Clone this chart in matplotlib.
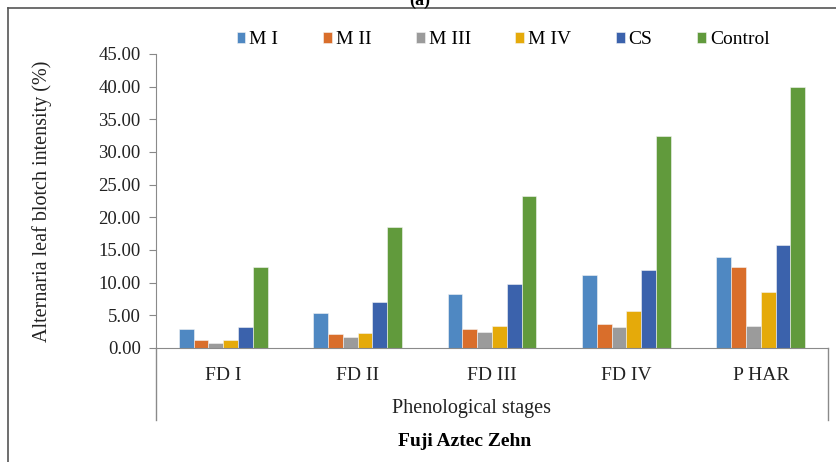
import matplotlib.pyplot as plt
import numpy as np
from matplotlib.lines import Line2D

# -------------------------------
# Data
# -------------------------------
stages = ["FD I", "FD II", "FD III", "FD IV", "P HAR"]
series = ["M I", "M II", "M III", "M IV", "CS", "Control"]
m1 = [2.9, 5.3, 8.2, 11.1, 13.9]
m2 = [1.3, 2.1, 2.9, 3.6, 12.4]
m3 = [0.8, 1.7, 2.5, 3.2, 3.4]
m4 = [1.3, 2.3, 3.4, 5.6, 8.5]
cs = [3.2, 7.0, 9.8, 11.9, 15.7]
control = [12.4, 18.5, 23.2, 32.5, 39.9]
colors = ["#4F88C2", "#D96E2B", "#9B9B9B", "#E5AA0A", "#3B62AC", "#619A3C"]

# -------------------------------
# Figure
# -------------------------------
plt.rcParams["font.family"] = ["Liberation Serif", "DejaVu Serif"]
W, H = 837, 462
L, R, T, B = 156, 828, 54, 348
fig = plt.figure(figsize=(W / 100, H / 100), dpi=100)
ax = fig.add_axes([L / W, 1 - B / H, (R - L) / W, (B - T) / H])

x = np.arange(len(stages))
width = 0.11
for i, (name, vals) in enumerate(zip(series, [m1, m2, m3, m4, cs, control])):
    ax.bar(x + (i - 2.5) * width, vals, width, color=colors[i], label=name,
           edgecolor="#F4F4F4", linewidth=0.4)

ax.set_xlim(-0.5, len(stages) - 0.5)
ax.set_ylim(0, 45)
ax.set_yticks(np.arange(0, 46, 5))
ax.set_yticklabels([f"{v:.2f}" for v in np.arange(0, 46, 5)], fontsize=13.5, color="#222222")
ax.set_xticks(x)
ax.set_xticklabels(stages, fontsize=14, color="#222222")
ax.tick_params(axis="x", length=0, pad=14)
ax.tick_params(axis="y", length=5, color="#888888", direction="out", pad=6)
for s in ["top", "right"]:
    ax.spines[s].set_visible(False)
ax.spines["left"].set_color("#8A8A8A")
ax.spines["bottom"].set_color("#8A8A8A")
ax.set_ylabel("Alternaria leaf blotch intensity (%)", fontsize=14.5, color="#222222")
ax.yaxis.set_label_coords((52 - L) / (R - L), 0.5)

# box lines below the axis
for xp in [L, R]:
    fig.add_artist(Line2D([xp / W, xp / W], [1 - B / H, 1 - 420 / H],
                          color="#8A8A8A", lw=1.0))
# outer frame
fig.add_artist(Line2D([8 / W, 8 / W], [0, 1 - 8 / H], color="#555555", lw=1.2))
fig.add_artist(Line2D([8 / W, 1], [1 - 8 / H, 1 - 8 / H], color="#555555", lw=1.2))

fig.text(472 / W, 1 - 409 / H, "Phenological stages", ha="center", va="center",
         fontsize=14.5, color="#222222")
fig.text(465 / W, 1 - 442 / H, "Fuji Aztec Zehn", ha="center", va="center",
         fontsize=14, fontweight="bold")
fig.text(420 / W, 1.0, "(a)", ha="center", va="center", fontsize=13, fontweight="bold")

fig.legend(loc="center", bbox_to_anchor=(503 / W, 1 - 40 / H), ncol=6, frameon=False,
           fontsize=14, handlelength=0.45, handleheight=0.45, handletextpad=0.2,
           columnspacing=2.3)

fig.savefig("out.png", dpi=100)
